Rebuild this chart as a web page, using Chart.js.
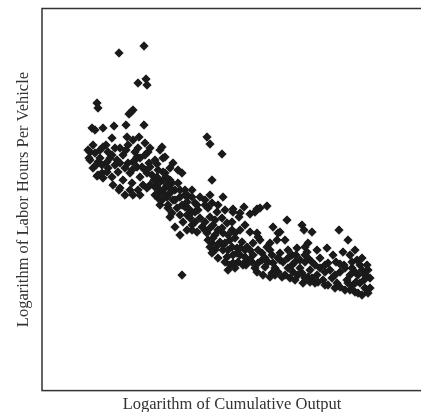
<!DOCTYPE html>
<html>
<head>
<meta charset="utf-8">
<script src="https://cdn.jsdelivr.net/npm/chart.js@4/dist/chart.umd.min.js"></script>
<style>
  html, body { margin: 0; padding: 0; background: #ffffff; overflow: hidden; }
  #wrap { width: 430px; height: 420px; }
</style>
</head>
<body>
<div id="wrap"><canvas id="c" width="430" height="420"></canvas></div>
<script>
// Axis titles
const xAxisTitle = "Logarithm of Cumulative Output";
const yAxisTitle = "Logarithm of Labor Hours Per Vehicle";

// Log of cumulative output (arbitrary log units)
const cumulativeOutputLog = [
  1.19,1.44,1.38,1.46,1.47,0.97,0.98,1.33,1.29,1.31,
  0.92,0.95,1.03,1.14,1.26,1.44,1.12,1.27,1.39,2.07,
  2.10,2.22,0.93,0.95,1.03,1.08,1.20,1.28,1.45,1.50,
  1.35,0.90,0.98,1.02,1.07,1.23,1.40,1.45,1.60,1.63,
  1.73,0.93,1.02,1.12,1.03,1.28,1.37,1.50,1.58,1.65,
  1.82,1.23,1.30,1.40,1.47,1.57,1.63,1.70,1.20,1.30,
  1.38,1.47,1.55,1.62,1.70,1.58,1.67,1.73,1.80,1.60,
  1.68,1.77,1.85,1.72,1.80,1.87,0.98,1.32,1.43,1.60,
  1.00,1.42,2.12,1.62,1.65,1.63,1.65,1.72,1.68,2.00,
  2.10,2.23,2.05,1.58,1.70,1.57,1.62,1.75,1.87,1.95,
  1.68,1.88,1.98,2.08,2.17,1.70,1.90,2.00,2.10,1.80,
  1.75,1.92,2.02,2.13,2.22,2.33,2.27,2.32,2.07,2.15,
  2.23,2.32,2.12,2.20,2.30,2.15,2.23,2.32,2.18,2.27,
  2.33,2.33,2.44,2.57,2.67,2.39,2.50,1.82,2.40,2.87,
  3.02,2.35,2.45,2.50,2.57,2.73,2.80,2.77,2.42,2.47,
  2.53,2.60,2.67,2.70,2.37,2.45,2.53,2.62,2.72,2.80,
  2.88,2.97,3.05,2.58,2.65,2.73,2.83,2.92,3.00,3.08,
  2.57,2.63,2.72,2.78,2.85,2.93,3.02,3.08,2.95,3.03,
  2.60,2.55,3.04,3.12,3.39,3.48,2.78,2.58,3.08,3.17,
  3.27,3.07,2.75,3.17,3.23,3.32,3.37,3.47,3.53,3.60,
  3.65,3.68,3.62,3.70,3.68,3.67,3.33,3.43,3.50,3.57,
  3.67,3.05,3.12,3.20,3.28,3.36,3.44,3.52,3.60,3.00,
  3.10,3.20,3.30,3.40,3.50,3.58,3.64,3.15,3.25,3.35,
  3.45,3.55,3.48,3.55,3.62,3.70,2.28,2.30,2.38,2.25,
  1.92,2.05,2.08,2.23,2.10,2.12,2.33,0.89,0.97,1.19,
  1.33,1.33,1.37,1.49,1.57,1.54,1.67,
  1.95,2.40,2.45,2.52,2.46,2.85,2.92,
  0.88,1.06,1.10,1.15,1.18,1.25,1.13,1.08,1.17,1.35,
  1.32,1.45,1.52,1.50,1.40,1.25,1.55,1.60,1.67,1.75,
  1.78,1.85,1.88,1.92,1.78,1.70,1.55,1.48,1.38,1.15,
  1.12,1.00,0.90,0.96,1.07,1.20,1.26,1.33,
  1.65,1.72,1.80,1.85,1.92,1.97,2.05,2.12,2.18,2.25,
  1.82,1.92,1.83,1.95,2.05,2.15,2.22,1.87,1.97,2.10,
  2.18,2.28,2.35,2.13,2.25,2.37,2.18,2.28,2.40,2.35,
  2.45,
  2.43,2.50,2.55,2.62,2.68,2.75,2.80,2.88,2.95,2.98,
  2.90,2.82,2.70,3.12,3.18,3.28,3.40,3.50,3.58,3.10,
  3.05,3.25,3.35,3.45,3.55,3.62,3.65,3.56,3.52,3.40,
  3.25,3.15,3.05,2.96,2.88,2.78,2.65,2.58,2.70,2.50,
  2.40
];

// Log of labor hours per vehicle (same order)
const laborHoursLog = [
  3.47,3.54,3.17,3.21,3.15,2.97,2.92,2.90,2.86,2.88,
  2.72,2.70,2.72,2.74,2.75,2.75,2.62,2.63,2.63,2.63,
  2.56,2.46,2.55,2.47,2.53,2.48,2.52,2.55,2.57,2.52,
  2.48,2.40,2.38,2.35,2.38,2.45,2.42,2.45,2.50,2.42,
  2.37,2.32,2.27,2.23,2.22,2.37,2.33,2.33,2.30,2.27,
  2.27,2.20,2.27,2.23,2.27,2.23,2.20,2.20,2.12,2.10,
  2.10,2.12,2.13,2.08,2.12,2.02,2.03,2.00,2.03,1.95,
  1.95,1.92,1.93,1.87,1.85,1.85,2.25,2.17,2.15,2.18,
  2.42,2.33,2.20,2.53,2.43,2.28,2.12,2.17,2.05,2.03,
  2.05,2.03,2.00,2.17,2.07,2.05,2.00,2.00,1.98,1.97,
  1.92,1.92,1.90,1.92,1.88,1.83,1.82,1.82,1.83,1.65,
  1.73,1.75,1.73,1.75,1.72,1.88,1.77,1.78,1.67,1.65,
  1.67,1.70,1.57,1.58,1.60,1.50,1.50,1.53,1.42,1.43,
  1.45,1.91,1.93,1.91,1.94,1.83,1.86,1.25,1.87,1.80,
  1.75,1.67,1.75,1.68,1.67,1.73,1.68,1.60,1.58,1.53,
  1.57,1.60,1.53,1.57,1.47,1.43,1.45,1.47,1.45,1.47,
  1.50,1.52,1.53,1.37,1.33,1.37,1.38,1.35,1.40,1.42,
  1.28,1.25,1.27,1.28,1.25,1.28,1.27,1.23,1.20,1.17,
  1.92,1.88,1.70,1.68,1.70,1.60,1.67,1.63,1.57,1.50,
  1.52,1.48,1.25,1.25,1.20,1.22,1.17,1.20,1.15,1.17,
  1.12,1.07,1.05,1.22,1.30,1.35,1.45,1.48,1.45,1.40,
  1.10,1.45,1.38,1.42,1.37,1.38,1.35,1.32,1.35,1.32,
  1.30,1.32,1.30,1.28,1.25,1.25,1.20,1.17,1.15,1.12,
  1.10,1.08,1.17,1.50,1.42,1.12,1.30,1.35,1.38,1.38,
  1.70,1.70,1.60,1.55,1.53,1.47,1.37,2.42,2.24,2.10,
  2.05,2.38,2.43,2.37,2.36,2.20,2.22,
  1.88,1.70,1.50,1.38,1.35,1.60,1.45,
  2.50,2.55,2.42,2.35,2.28,2.32,2.15,2.32,2.40,2.40,
  2.30,2.30,2.25,2.15,2.05,2.05,2.05,2.10,2.15,2.10,
  2.17,2.10,2.04,2.10,2.30,2.32,2.40,2.48,2.52,2.52,
  2.45,2.50,2.48,2.35,2.28,2.37,2.50,2.60,
  2.05,2.10,2.10,2.05,2.03,1.95,1.95,1.97,1.95,1.90,
  1.95,1.88,1.78,1.78,1.78,1.80,1.82,1.70,1.68,1.72,
  1.70,1.65,1.62,1.62,1.57,1.52,1.55,1.50,1.45,1.32,
  1.38,
  1.35,1.40,1.32,1.40,1.38,1.32,1.40,1.32,1.38,1.25,
  1.22,1.23,1.23,1.22,1.18,1.15,1.13,1.10,1.07,1.18,
  1.22,1.28,1.25,1.32,1.28,1.30,1.25,1.18,1.38,1.36,
  1.35,1.35,1.38,1.45,1.42,1.42,1.42,1.50,1.50,1.50,
  1.52
];

// Axis ranges (no tick labels are shown in the original)
const xRange = [0.42, 4.22];
const yRange = [0.095, 3.915];

const points = cumulativeOutputLog.map((x, i) => ({ x: x, y: laborHoursLog[i] }));

const framePlugin = {
  id: 'frame',
  afterDatasetsDraw(chart) {
    const { ctx, chartArea: a } = chart;
    ctx.save();
    ctx.strokeStyle = '#333333';
    ctx.lineWidth = 1.5;
    ctx.strokeRect(a.left, a.top, a.right - a.left, a.bottom - a.top);
    ctx.restore();
  }
};

const serif = "'Liberation Serif', 'Times New Roman', serif";

new Chart(document.getElementById('c'), {
  type: 'scatter',
  data: {
    datasets: [{
      data: points,
      pointStyle: 'rectRot',
      pointRadius: 4.2,
      pointBorderWidth: 1,
      backgroundColor: '#1a1a1a',
      borderColor: '#1a1a1a'
    }]
  },
  options: {
    responsive: false,
    devicePixelRatio: 1,
    animation: false,
    layout: { padding: { left: 6, top: 8.5, right: 8, bottom: 5 } },
    plugins: { legend: { display: false }, tooltip: { enabled: false } },
    scales: {
      x: {
        type: 'linear',
        min: xRange[0], max: xRange[1],
        grid: { display: false, drawTicks: false, tickLength: 0 },
        border: { display: false },
        ticks: { display: false, padding: 0 },
        title: {
          display: true, text: xAxisTitle, color: '#333333',
          font: { family: serif, size: 16.5 },
          padding: { top: 4.6, bottom: 0 }
        }
      },
      y: {
        type: 'linear',
        min: yRange[0], max: yRange[1],
        grid: { display: false, drawTicks: false, tickLength: 0 },
        border: { display: false },
        ticks: { display: false, padding: 0 },
        title: {
          display: true, text: yAxisTitle, color: '#333333',
          font: { family: serif, size: 16.5 },
          padding: { top: 7.6, bottom: 8.6 }
        }
      }
    }
  },
  plugins: [framePlugin]
});
</script>
</body>
</html>
